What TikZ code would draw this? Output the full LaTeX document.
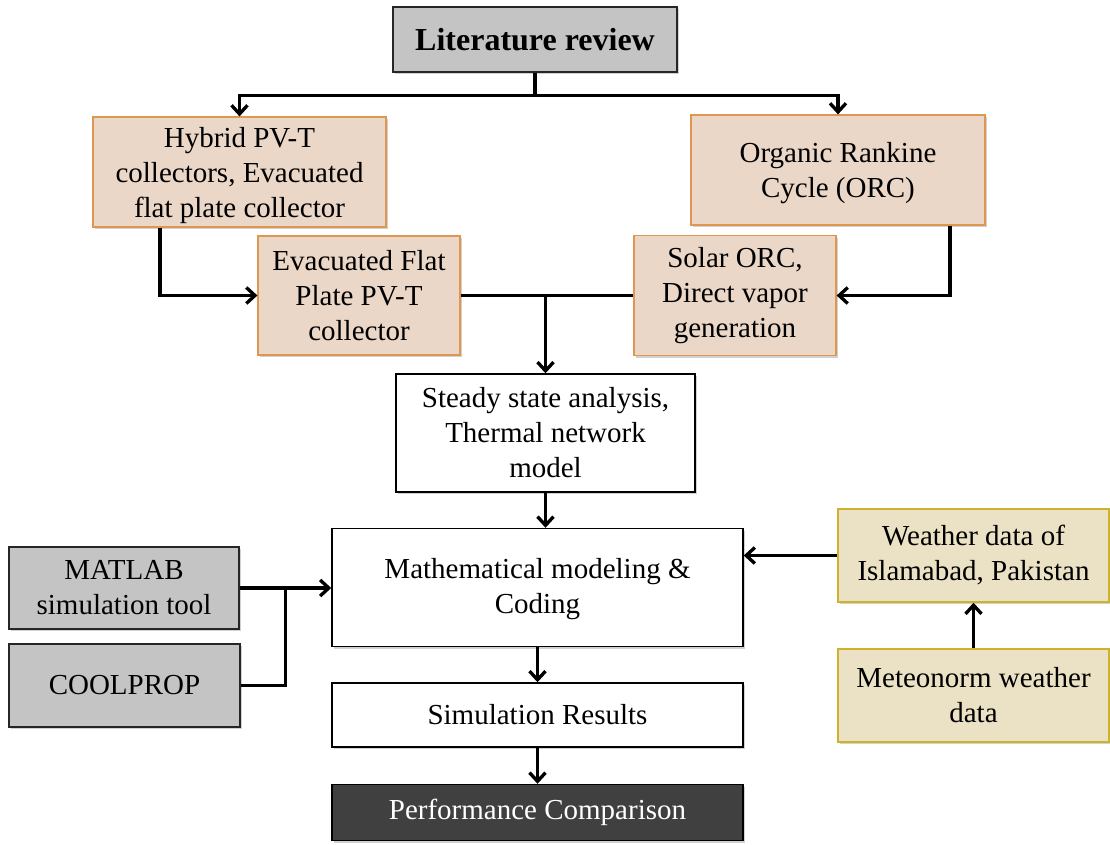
\documentclass[tikz,border=0pt]{standalone}
\usepackage{fontspec}
\setmainfont{Liberation Serif}
\usetikzlibrary{arrows.meta,calc,shadows}
\definecolor{peach}{RGB}{235,215,200}
\definecolor{peachline}{RGB}{222,150,80}
\definecolor{grayfill}{RGB}{196,196,196}
\definecolor{yellowfill}{RGB}{235,225,196}
\definecolor{yellowline}{RGB}{205,178,45}
\definecolor{darkfill}{RGB}{64,64,64}
\begin{document}
\begin{tikzpicture}[x=0.75pt,y=-0.75pt,
  every node/.style={font=\fontsize{21.75}{26.25}\selectfont, align=center, inner sep=0pt},
  box/.style 2 args={rectangle, minimum width=#1*0.75pt, minimum height=#2*0.75pt,
     drop shadow={shadow xshift=1.5pt, shadow yshift=-1.5pt, opacity=0.3, fill=black!60}},
  peachbox/.style={fill=peach, draw=peachline, line width=0.9pt},
  graybox/.style={fill=grayfill, draw=black!85, line width=1.1pt},
  whitebox/.style={fill=white, draw=black, line width=1.1pt},
  yellowbox/.style={fill=yellowfill, draw=yellowline, line width=1.1pt},
  darkbox/.style={fill=darkfill, draw=black, line width=1.1pt, text=white},
  line/.style={draw=black, line width=2.5pt, line join=miter},
  arrowed/.style={line, -{Straight Barb[length=6.5pt,width=12pt]}}
]
\useasboundingbox (0,0) rectangle (1110,845);

\node[box={284}{65}, graybox, font=\fontsize{24}{28}\selectfont\bfseries] (lit) at (535,39.5) {Literature review};
\node[box={293}{110}, peachbox] (hyb) at (239.5,172) {\rule{0pt}{20pt}Hybrid PV-T\\collectors, Evacuated\\flat plate collector};
\node[box={294}{110}, peachbox] (orc) at (838,170) {\rule{0pt}{20pt}Organic Rankine\\Cycle (ORC)};
\node[box={202}{119}, peachbox] (evac) at (359,295.5) {Evacuated Flat\\Plate PV-T\\collector};
\node[box={202}{120}, peachbox] (sol) at (735,295.5) {Solar ORC,\\Direct vapor\\generation};
\node[box={299}{118}, whitebox] (steady) at (545.5,433) {Steady state analysis,\\Thermal network\\model};
\node[box={411}{118}, whitebox] (math) at (537.5,587.5) {\rule{0pt}{18pt}Mathematical modeling \&\\Coding};
\node[box={230}{82}, graybox] (matlab) at (124,588) {MATLAB\\simulation tool};
\node[box={231}{83}, graybox] (cool) at (124.5,685.5) {COOLPROP};
\node[box={271}{93}, yellowbox] (weather) at (973.5,555.5) {Weather data of\\Islamabad, Pakistan};
\node[box={271}{93}, yellowbox] (meteo) at (973.5,695.5) {Meteonorm weather\\data};
\node[box={411}{64}, whitebox] (sim) at (537.5,715) {Simulation Results};
\node[box={411}{56}, darkbox] (perf) at (537.5,812.5) {Performance Comparison};

% literature review split
\coordinate (j1) at ($(lit.south)+(0,23)$);
\draw[line] (lit.south) -- (j1);
\draw[arrowed] (j1) -| (hyb.north);
\draw[arrowed] (j1) -| (orc.north);

% side feeds
\coordinate (h1) at ($(hyb.south)+(-79.5,0)$);
\draw[arrowed] (h1) |- (evac.west);
\coordinate (o1) at ($(orc.south)+(112,0)$);
\draw[arrowed] (o1) |- (sol.east);

% merge into steady
\draw[line] (evac.east) -- (sol.west);
\coordinate (j2) at (steady.north |- evac.east);
\draw[arrowed] (j2) -- (steady.north);

\draw[arrowed] (steady.south) -- (steady.south |- math.north);

% tools into math
\draw[arrowed] (matlab.east) -- (matlab.east -| math.west);
\coordinate (j3) at ($(matlab.east)+(46,0)$);
\draw[line] (cool.east) -| (j3);

% weather
\draw[arrowed] (meteo.north) -- (weather.south);
\draw[arrowed] (weather.west) -- (weather.west -| math.east);

% down the chain
\draw[arrowed] (math.south) -- (sim.north);
\draw[arrowed] (sim.south) -- (perf.north);
\end{tikzpicture}
\end{document}
